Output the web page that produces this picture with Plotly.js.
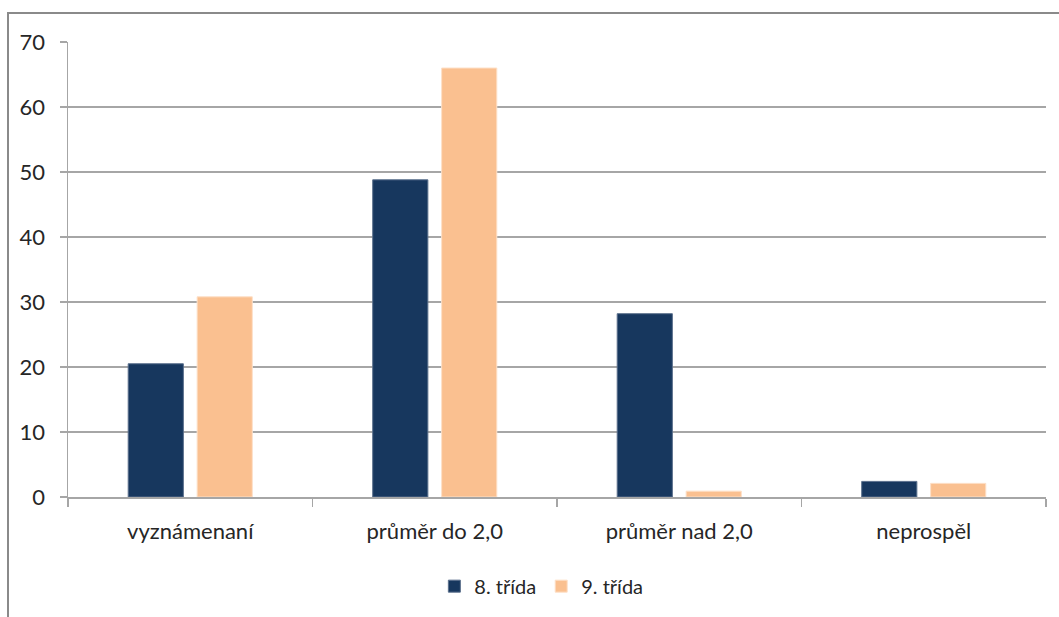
<!DOCTYPE html>
<html>
<head>
<meta charset="utf-8">
<script src="https://cdn.plot.ly/plotly-3.0.1.min.js"></script>
<style>
  html, body { margin: 0; padding: 0; background: #fff; overflow: hidden; }
  #frame { position: absolute; left: 7px; top: 12px; width: 1100px; height: 700px;
           border-left: 2px solid #8a8a8a; border-top: 2px solid #8a8a8a; }
  #chart { position: absolute; left: 0; top: 0; width: 1059px; height: 617px; }
</style>
</head>
<body>
<div id="frame"></div>
<div id="chart"></div>
<script>
const categories = ["vyznámenaní", "průměr do 2,0", "průměr nad 2,0", "neprospěl"];
const seriesNames = ["8. třída", "9. třída"];
const grade8 = [20.5, 48.8, 28.2, 2.4];
const grade9 = [30.8, 66.0, 0.9, 2.1];
const yTicks = [0, 10, 20, 30, 40, 50, 60, 70];

const fontFamily = "Lato, 'Open Sans', sans-serif";
const textColor = "#262626";

const traces = [
  { type: "bar", name: seriesNames[0], x: categories, y: grade8,
    marker: { color: "#17375e", line: { color: "#5a6f8c", width: 1 } }, hoverinfo: "x+y" },
  { type: "bar", name: seriesNames[1], x: categories, y: grade9,
    marker: { color: "#fac090", line: { color: "#fde0c8", width: 1 } }, hoverinfo: "x+y" }
];

const layout = {
  width: 1059, height: 617,
  margin: { l: 68, r: 13, t: 42, b: 120, autoexpand: false },
  paper_bgcolor: "rgba(0,0,0,0)", plot_bgcolor: "#fff",
  font: { family: fontFamily, size: 21, color: textColor },
  barmode: "group", bargap: 0.436, bargroupgap: 0.2,
  showlegend: true,
  legend: { orientation: "h", x: 0.484, xanchor: "center",
            yref: "container", y: 0.05, yanchor: "middle",
            font: { family: fontFamily, size: 20, color: textColor },
            itemwidth: 30, traceorder: "normal" },
  xaxis: {
    type: "category", showgrid: false, showline: true, linecolor: "#a6a6a6", linewidth: 1.5,
    ticks: "outside", tickson: "boundaries", ticklen: 8, tickcolor: "#a6a6a6", tickwidth: 1.5,
    ticklabelstandoff: 14, tickfont: { family: fontFamily, size: 22, color: textColor },
    zeroline: false, automargin: false
  },
  yaxis: {
    range: [0, 70], tickvals: yTicks, ticktext: yTicks.map(String),
    showgrid: true, gridcolor: "#a6a6a6", gridwidth: 1.5,
    showline: true, linecolor: "#a6a6a6", linewidth: 1.5,
    ticks: "outside", ticklen: 7, tickcolor: "#a6a6a6", tickwidth: 1.5,
    ticklabelstandoff: 10, tickfont: { family: fontFamily, size: 22, color: textColor },
    zeroline: false, fixedrange: true, automargin: false
  }
};

Plotly.newPlot("chart", traces, layout, { displayModeBar: false, staticPlot: true });
</script>
</body>
</html>
